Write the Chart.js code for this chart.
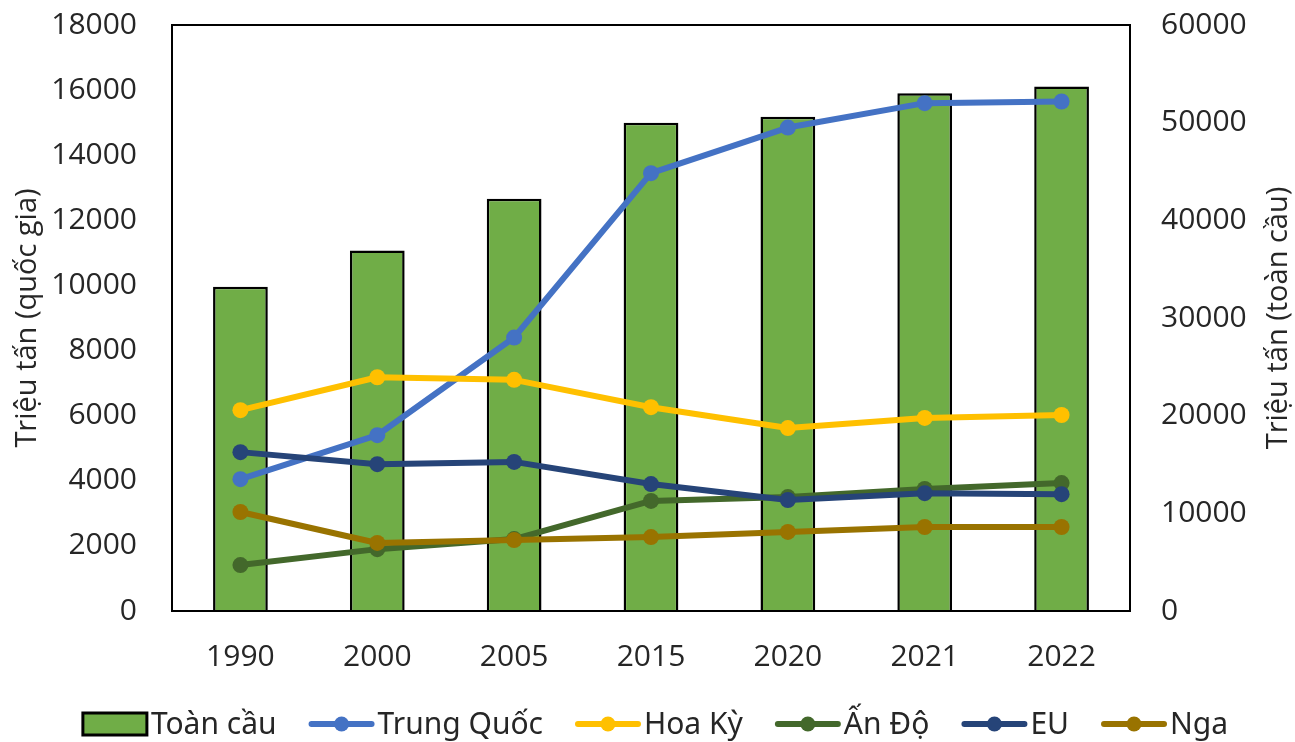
<!DOCTYPE html>
<html>
<head>
<meta charset="utf-8">
<script src="https://cdn.jsdelivr.net/npm/chart.js@4"></script>
<style>
  html, body { margin: 0; padding: 0; background: #fff; }
  #wrap { width: 1295px; height: 742px; }
</style>
</head>
<body>
<div id="wrap"><canvas id="grafico"></canvas></div>
<script>
// dữ liệu
const nam = ["1990", "2000", "2005", "2015", "2020", "2021", "2022"];
const toanCau = [33200, 36900, 42200, 50000, 50600, 53000, 53700];
const trungQuoc = [4050, 5400, 8400, 13450, 14850, 15600, 15650];
const hoaKy = [6170, 7180, 7100, 6260, 5620, 5930, 6020];
const anDo = [1410, 1900, 2210, 3380, 3500, 3750, 3930];
const eu = [4880, 4510, 4580, 3900, 3410, 3620, 3590];
const nga = [3040, 2090, 2180, 2270, 2430, 2580, 2580];
const tickTrai = [0, 2000, 4000, 6000, 8000, 10000, 12000, 14000, 16000, 18000];
const tickPhai = [0, 10000, 20000, 30000, 40000, 50000, 60000];

const chuTick = { family: "'Open Sans', 'Noto Sans', sans-serif", size: 30 };
const mauChu = "#262626";

function duong(label, data, mau, order) {
  return {
    type: "line",
    label: label,
    data: data,
    yAxisID: "y",
    borderColor: mau,
    backgroundColor: mau,
    borderWidth: 6,
    borderJoinStyle: "round",
    borderCapStyle: "round",
    pointRadius: 8,
    pointBorderWidth: 0,
    tension: 0,
    order: order
  };
}

// chú giải kiểu Excel, vẽ tay ở dưới biểu đồ
const chuGiai = {
  id: "chuGiai",
  afterDraw(chart) {
    const g = chart.ctx;
    const rongKyHieu = 66, khoangChu = 3, khoangMuc = 32, y = 724;
    g.save();
    g.font = "30px 'Noto Sans', 'Open Sans', sans-serif";
    g.textBaseline = "middle";
    const ds = chart.data.datasets;
    const rong = ds.map(d => rongKyHieu + khoangChu + g.measureText(d.label).width);
    const tong = rong.reduce((a, b) => a + b, 0) + khoangMuc * (ds.length - 1);
    let x = 655 - tong / 2;
    ds.forEach((d, i) => {
      if (d.type === "bar") {
        g.fillStyle = d.backgroundColor;
        g.fillRect(x + 1, y - 11, rongKyHieu - 2, 22);
        g.strokeStyle = "#000";
        g.lineWidth = 3;
        g.strokeRect(x + 1, y - 11, rongKyHieu - 2, 22);
      } else {
        g.strokeStyle = d.borderColor;
        g.lineWidth = 6;
        g.lineCap = "round";
        g.beginPath(); g.moveTo(x + 3, y); g.lineTo(x + rongKyHieu - 3, y); g.stroke();
        g.fillStyle = d.borderColor;
        g.beginPath(); g.arc(x + rongKyHieu / 2, y, 7.5, 0, Math.PI * 2); g.fill();
      }
      g.fillStyle = mauChu;
      g.fillText(d.label, x + rongKyHieu + khoangChu, y + 1);
      x += rong[i] + khoangMuc;
    });
    g.restore();
  }
};

const vienKhung = {
  id: "vienKhung",
  afterDatasetsDraw(chart) {
    const a = chart.chartArea, g = chart.ctx;
    g.save();
    g.strokeStyle = "#000";
    g.lineWidth = 2;
    g.strokeRect(a.left, a.top, a.right - a.left, a.bottom - a.top);
    g.restore();
  },
  afterDraw(chart) {
    // tiêu đề trục phải, đọc từ dưới lên như trục trái
    const g = chart.ctx;
    g.save();
    g.fillStyle = mauChu;
    g.font = "29px 'Open Sans', sans-serif";
    g.textAlign = "center";
    g.textBaseline = "middle";
    g.translate(1279, (chart.chartArea.top + chart.chartArea.bottom) / 2);
    g.rotate(-Math.PI / 2);
    g.fillText("Triệu tấn (toàn cầu)", 0, 0);
    g.restore();
  }
};

function coDinhTruc(rong) {
  return s => { s.width = rong; s.paddingTop = 0; s.paddingBottom = 0; };
}

new Chart(document.getElementById("grafico").getContext("2d"), {
  type: "bar",
  data: {
    labels: nam,
    datasets: [
      {
        type: "bar",
        label: "Toàn cầu",
        data: toanCau,
        yAxisID: "y1",
        backgroundColor: "#70AD47",
        borderColor: "#000",
        borderWidth: 2.5,
        barPercentage: 0.4,
        categoryPercentage: 1,
        order: 10
      },
      duong("Trung Quốc", trungQuoc, "#4472C4", 5),
      duong("Hoa Kỳ", hoaKy, "#FFC000", 4),
      duong("Ấn Độ", anDo, "#43682B", 3),
      duong("EU", eu, "#264478", 2),
      duong("Nga", nga, "#997300", 1)
    ]
  },
  options: {
    responsive: true,
    maintainAspectRatio: false,
    animation: false,
    layout: { padding: { top: 25, left: 10, right: 0, bottom: 51 } },
    plugins: {
      tooltip: { enabled: false },
      legend: { display: false }
    },
    scales: {
      x: {
        grid: { display: false },
        border: { display: true, color: "#000", width: 2 },
        ticks: { color: mauChu, font: chuTick, padding: 20 },
        afterFit(s) { s.height = 80; }
      },
      y: {
        position: "left",
        min: 0,
        max: 18000,
        afterBuildTicks(s) { s.ticks = tickTrai.map(v => ({ value: v })); },
        grid: { display: false },
        border: { display: true, color: "#000", width: 2 },
        ticks: { color: mauChu, font: chuTick, padding: 27, callback: v => String(v) },
        title: {
          display: true,
          text: "Triệu tấn (quốc gia)",
          color: mauChu,
          font: { family: "'Open Sans', sans-serif", size: 29 },
          padding: 0
        },
        afterFit: coDinhTruc(162)
      },
      y1: {
        position: "right",
        min: 0,
        max: 60000,
        afterBuildTicks(s) { s.ticks = tickPhai.map(v => ({ value: v })); },
        grid: { display: false, drawOnChartArea: false },
        border: { display: true, color: "#000", width: 2 },
        ticks: { color: mauChu, font: chuTick, padding: 23, callback: v => String(v) },
        afterFit: coDinhTruc(165)
      }
    }
  },
  plugins: [vienKhung, chuGiai]
});
</script>
</body>
</html>
